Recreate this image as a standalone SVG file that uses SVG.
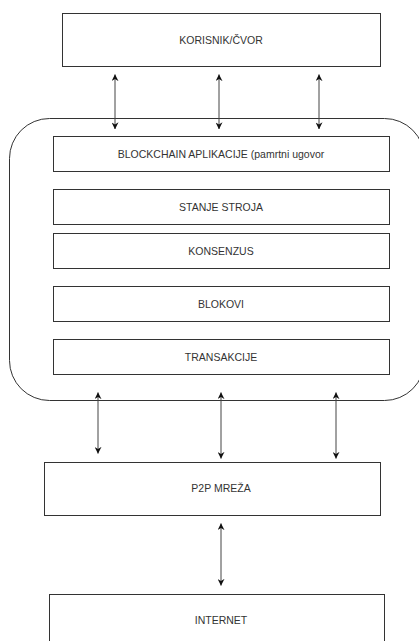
<svg xmlns="http://www.w3.org/2000/svg" width="419" height="641" viewBox="0 0 419 641">
<style>
.box{fill:#fff;stroke:#333;stroke-width:1}
.lbl{font-family:"Liberation Sans",Arial,sans-serif;font-size:10.5px;fill:#333;text-anchor:middle;dominant-baseline:central}
.conn{stroke:#444;stroke-width:1;fill:none}
</style>
<defs>
<marker id="ah" viewBox="0 0 10 10" refX="9.5" refY="5" markerWidth="7" markerHeight="7" markerUnits="userSpaceOnUse" orient="auto-start-reverse">
<path d="M0,0 L10,5 L0,10 L3,5 Z" fill="#111"/>
</marker>
</defs>
<rect width="419" height="641" fill="#fff"/>
<g id="container">
<rect x="9.5" y="118.5" width="415" height="282" rx="40" ry="40" class="box"/>
</g>
<g id="korisnik">
<rect x="62.5" y="13.5" width="318" height="53" class="box"/>
<text x="221" y="40" class="lbl">KORISNIK/ČVOR</text>
</g>
<g id="aplikacije">
<rect x="53.5" y="136.5" width="336" height="35" class="box"/>
<text x="221" y="154" class="lbl">BLOCKCHAIN APLIKACIJE (pamrtni ugovor</text>
</g>
<g id="stanje">
<rect x="53.5" y="189.5" width="336" height="35" class="box"/>
<text x="221" y="207" class="lbl">STANJE STROJA</text>
</g>
<g id="konsenzus">
<rect x="53.5" y="233.5" width="336" height="35" class="box"/>
<text x="221" y="251" class="lbl">KONSENZUS</text>
</g>
<g id="blokovi">
<rect x="53.5" y="286.5" width="336" height="35" class="box"/>
<text x="221" y="304" class="lbl">BLOKOVI</text>
</g>
<g id="transakcije">
<rect x="53.5" y="339.5" width="336" height="35" class="box"/>
<text x="221" y="357" class="lbl">TRANSAKCIJE</text>
</g>
<g id="p2p">
<rect x="44.5" y="462.5" width="336" height="53" class="box"/>
<text x="221" y="488" class="lbl">P2P MREŽA</text>
</g>
<g id="internet">
<rect x="49.5" y="594.5" width="335" height="52" class="box"/>
<text x="221" y="619.5" class="lbl">INTERNET</text>
</g>
<g id="connectors">
<line x1="115" y1="74.5" x2="115" y2="129" class="conn" marker-start="url(#ah)" marker-end="url(#ah)"/>
<line x1="219" y1="74.5" x2="219" y2="129" class="conn" marker-start="url(#ah)" marker-end="url(#ah)"/>
<line x1="319" y1="74.5" x2="319" y2="129" class="conn" marker-start="url(#ah)" marker-end="url(#ah)"/>
<line x1="98" y1="392.5" x2="98" y2="453.5" class="conn" marker-start="url(#ah)" marker-end="url(#ah)"/>
<line x1="221" y1="392.5" x2="221" y2="458.5" class="conn" marker-start="url(#ah)" marker-end="url(#ah)"/>
<line x1="336" y1="392.5" x2="336" y2="458.5" class="conn" marker-start="url(#ah)" marker-end="url(#ah)"/>
<line x1="221" y1="523.5" x2="221" y2="585.5" class="conn" marker-start="url(#ah)" marker-end="url(#ah)"/>
</g>
</svg>
